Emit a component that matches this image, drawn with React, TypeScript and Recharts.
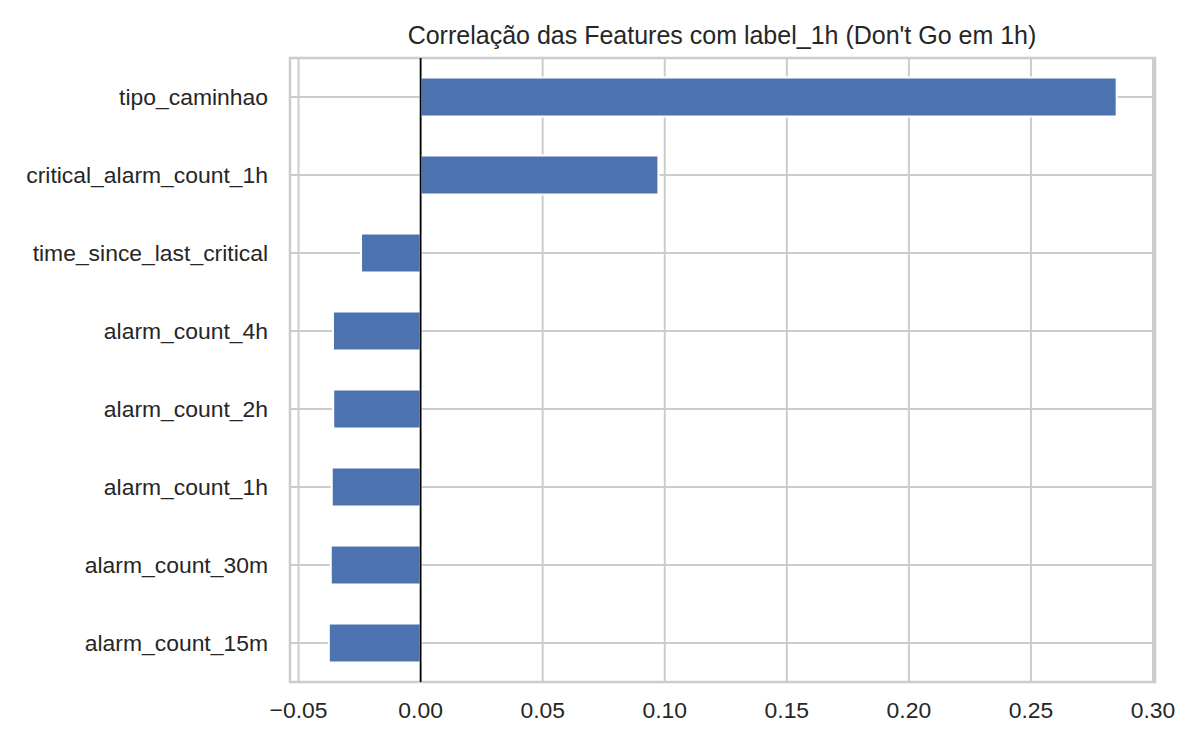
import React from "react";
import {
  BarChart,
  Bar,
  XAxis,
  YAxis,
  CartesianGrid,
  ReferenceLine,
  ReferenceArea,
} from "recharts";

const features = [
  "tipo_caminhao",
  "critical_alarm_count_1h",
  "time_since_last_critical",
  "alarm_count_4h",
  "alarm_count_2h",
  "alarm_count_1h",
  "alarm_count_30m",
  "alarm_count_15m",
];

const correlations = [0.2851, 0.0974, -0.0244, -0.0359, -0.0358, -0.0364, -0.0368, -0.0376];

const xTicks = [-0.05, 0, 0.05, 0.1, 0.15, 0.2, 0.25, 0.3];
const xDomain: [number, number] = [-0.0535, 0.3008];

const title = "Correlação das Features com label_1h (Don't Go em 1h)";

const data = features.map((name, i) => ({ name, corr: correlations[i] }));

const FONT = "'Liberation Sans', Arial, sans-serif";
const TEXT = "#262626";
const GRID = "#cccccc";

const fmt = (v: number) => v.toFixed(2).replace("-", "\u2212");

export default function App() {
  return (
    <div style={{ position: "absolute", left: 0, top: 0, width: 1200, height: 750, background: "#fff" }}>
      <BarChart
        width={1200}
        height={750}
        data={data}
        layout="vertical"
        barCategoryGap="25%"
        margin={{ top: 58, right: 45, bottom: 0, left: 0 }}
      >
        <CartesianGrid stroke={GRID} strokeWidth={2} />
        <XAxis
          type="number"
          domain={xDomain}
          ticks={xTicks}
          allowDataOverflow
          tickFormatter={fmt}
          axisLine={false}
          tickLine={false}
          tickSize={0}
          tickMargin={20}
          height={68}
          tick={{ fontSize: 22.9, fill: TEXT, fontFamily: FONT }}
        />
        <YAxis
          type="category"
          dataKey="name"
          width={290}
          axisLine={false}
          tickLine={false}
          tickSize={0}
          tickMargin={22}
          interval={0}
          tick={{ fontSize: 22.9, fill: TEXT, fontFamily: FONT }}
        />
        <Bar dataKey="corr" fill="#4c72b0" stroke="#ffffff" strokeWidth={2} isAnimationActive={false} />
        <ReferenceLine x={0} stroke="#000000" strokeWidth={1.7} />
        <ReferenceArea
          x1={xDomain[0]}
          x2={xDomain[1]}
          fill="none"
          fillOpacity={0}
          stroke={GRID}
          strokeWidth={2.5}
          ifOverflow="visible"
        />
      </BarChart>
      <svg
        width={1200}
        height={750}
        style={{ position: "absolute", left: 0, top: 0, pointerEvents: "none" }}
      >
        <text x={722} y={43.5} textAnchor="middle" fontSize={25} fill={TEXT} fontFamily={FONT}>
          {title}
        </text>
      </svg>
    </div>
  );
}
